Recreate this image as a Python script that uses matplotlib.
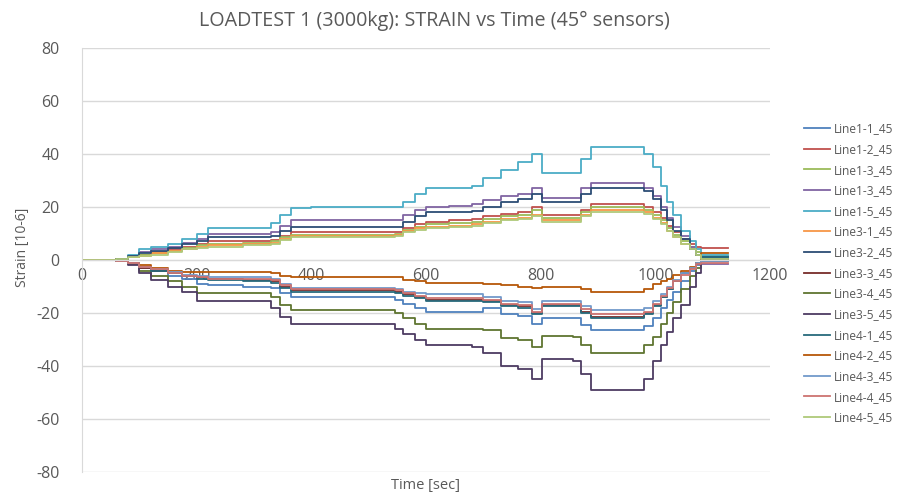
import matplotlib
matplotlib.use("Agg")
import matplotlib.pyplot as plt

plt.rcParams['font.family'] = ['Open Sans', 'DejaVu Sans']
plt.rcParams['axes.unicode_minus'] = False

# Common load-step breakpoints (seconds); each value holds until the next breakpoint
time_s = [0, 60, 80, 100, 120, 150, 175, 200, 220, 250, 280, 330, 345, 365, 400, 545,
          560, 580, 600, 640, 680, 700, 730, 760, 785, 803, 857, 870, 887, 980, 995,
          1010, 1020, 1030, 1045, 1060, 1070, 1080, 1127]

line1_1 = [0, -0.3, -1, -3, -4, -6, -7, -9, -9.5, -9.5, -10, -10.5, -12.5, -14, -14, -15,
           -16.5, -18, -19.5, -19.5, -19.5, -18, -20.5, -21, -24, -22, -22, -24.5, -26.5, -25, -22,
           -18, -15, -12, -8, -4, -2, 0.5, 0.5]
line1_2 = [0, 0.3, 1, 2, 3, 4, 5, 6, 7, 7, 7, 7.5, 9, 10.5, 10.5, 10.5,
           12, 13.5, 14.5, 15, 15.5, 16.5, 17.5, 18, 20, 17, 17, 19, 21, 20, 18,
           16, 13, 10.5, 8, 6, 5, 4.5, 4.5]
line1_3 = [0, 0.3, 1, 2, 2.5, 3.5, 4.5, 5.5, 6, 6, 6.5, 7, 8.5, 9.5, 9.5, 10,
           11.5, 12.5, 13.5, 14, 14.5, 15.5, 16.5, 17, 19, 16, 16, 18, 20, 19, 17,
           15, 12, 9.5, 7, 5, 3, 1.5, 1.5]
line1_3b = [0, 0.3, 1.5, 3, 4, 5, 6.5, 8, 10, 10, 10, 10.5, 13, 15, 15, 15,
            17, 19, 20, 20.5, 21, 22.5, 24, 25, 27, 23.5, 23.5, 27, 29, 27, 24,
            20, 16, 12.5, 9, 5, 2, -1.5, -1.5]
line1_5 = [0, 0.5, 2, 4, 5, 6, 8, 10, 12, 12, 12, 14, 17, 19.5, 20, 20,
           22, 25, 27, 27, 28, 31, 34, 37, 40, 33, 33, 38, 42.5, 40, 35,
           28, 22, 17, 11, 7, 4, 2, 2]
line3_1 = [0, 0.3, 1, 1.5, 2.5, 3.5, 4, 5, 5.5, 5.5, 6, 6.5, 8, 9, 9, 9.5,
           11, 12, 12.5, 13, 13.5, 14.5, 15.5, 16, 17, 15, 15, 17, 19, 18, 16,
           14, 11, 8.5, 6, 4, 2, 0, 0]
line3_2 = [0, 0.3, 1.5, 2.5, 3.5, 4.5, 6, 7, 8.5, 8.5, 8.5, 9, 11, 12.5, 12.5, 12.5,
           14.5, 16.5, 18, 18, 18.5, 20, 22, 23, 25, 22, 22, 25, 27, 26, 23,
           19, 15, 11, 8, 4, 2, 1, 1]
line3_3 = [0, -0.3, -1, -3, -4, -5, -6, -6.5, -7, -7, -7.5, -8, -10, -11.5, -11.5, -12,
           -13, -14, -15, -15, -15, -15.5, -17, -17.5, -20, -17, -17, -19.5, -21.5, -20, -17,
           -14, -11, -8, -5, -3, -1.5, -0.5, -0.5]
line3_4 = [0, -0.3, -1.5, -4, -6, -8, -10, -12.5, -12.5, -12.5, -12.5, -14, -17, -19, -19, -20,
           -22, -24, -26, -26, -26, -26.5, -29.5, -30, -33, -28.5, -29, -32, -35, -32, -29,
           -24, -20, -16, -11, -6, -3, 0.5, 0.5]
line3_5 = [0, -0.5, -2, -5, -7.5, -10, -12, -15.5, -15.5, -15.5, -15.5, -18, -21.5, -24, -24, -26,
           -28, -30, -32, -32, -33, -35, -40, -41, -45, -37.5, -38, -43, -49, -45, -38,
           -32, -27, -22, -17, -10, -5, 0, 0]
line4_1 = [0, -0.3, -1, -2.5, -4, -5, -6, -7, -7.5, -7.5, -8, -8.5, -10.5, -12, -12, -12.5,
           -13.5, -14.5, -15.5, -15.5, -15.5, -16, -17.5, -18, -20.5, -17.5, -17.5, -20, -22, -20.5, -17.5,
           -14, -11, -8, -5, -3, -1, 1, 1]
line4_2 = [0, -0.2, -1, -2, -3, -4, -4.5, -4.5, -4.5, -4.5, -4.5, -5, -6, -6.5, -6.5, -6.5,
           -7.5, -8, -8.5, -8.5, -8.5, -9, -9.5, -10, -10.5, -10, -10, -11, -12, -11, -9,
           -8, -7, -5.5, -4, -2.5, -1, 2.5, 2.5]
line4_3 = [0, -0.3, -1, -2.5, -3.5, -4.5, -5.5, -6, -6.5, -6.5, -6.5, -7, -9, -10.5, -10.5, -11,
           -12, -12.5, -13, -13, -13, -14, -15.5, -16, -18.5, -15.5, -15.5, -17.5, -19, -18, -15.5,
           -13, -10, -7.5, -5, -3, -1, -0.5, -0.5]
line4_4 = [0, -0.3, -1, -2.5, -3.5, -5, -6, -6.5, -7, -7, -7, -7.5, -9.5, -11, -11, -11.5,
           -12.5, -13.5, -14.5, -14.5, -14.5, -15, -16.5, -17, -19.5, -16.5, -16.5, -18.5, -20.5, -19.5, -16.5,
           -13.5, -10.5, -8, -5.5, -3.5, -1.5, -1, -1]
line4_5 = [0, 0.3, 1, 1.5, 2, 3, 4, 4.5, 5, 5, 5.5, 6, 7.5, 8.5, 8.5, 9,
           10.5, 11.5, 12, 12.5, 13, 14, 15, 15.5, 16.5, 14.5, 14.5, 16.5, 18, 17.5, 15.5,
           13.5, 11, 8.5, 6, 4, 2, 0.5, 0.5]

series_names = ["Line1-1_45", "Line1-2_45", "Line1-3_45", "Line1-3_45", "Line1-5_45",
                "Line3-1_45", "Line3-2_45", "Line3-3_45", "Line3-4_45", "Line3-5_45",
                "Line4-1_45", "Line4-2_45", "Line4-3_45", "Line4-4_45", "Line4-5_45"]
series_values = [line1_1, line1_2, line1_3, line1_3b, line1_5,
                 line3_1, line3_2, line3_3, line3_4, line3_5,
                 line4_1, line4_2, line4_3, line4_4, line4_5]
colors = ["#4F81BD", "#C0504D", "#9BBB59", "#8064A2", "#4BACC6",
          "#F79646", "#2C4D75", "#772C2A", "#5F7530", "#4D3B62",
          "#276A7C", "#B65708", "#729ACA", "#CD7371", "#AFC97A"]

x_ticks = [0, 200, 400, 600, 800, 1000, 1200]
y_ticks = [-80, -60, -40, -20, 0, 20, 40, 60, 80]

fig = plt.figure(figsize=(9.06, 5.0), dpi=100)
ax = fig.add_axes([0.0905, 0.056, 0.7595, 0.848])

for name, vals, c in zip(series_names, series_values, colors):
    ax.step(time_s, vals, where="post", color=c, lw=1.3, label=name)

ax.set_xlim(0, 1200)
ax.set_ylim(-80, 80)
ax.set_xticks(x_ticks)
ax.set_yticks(y_ticks)
ax.set_axisbelow(True)
ax.grid(axis="y", color="#D9D9D9", lw=1)
ax.grid(axis="x", visible=False)
for s in ["top", "right"]:
    ax.spines[s].set_visible(False)
ax.spines["left"].set_color("#D9D9D9")
ax.spines["bottom"].set_color("#D9D9D9")
ax.spines["bottom"].set_position(("data", 0))
ax.tick_params(axis="both", length=0, labelsize=11.5, labelcolor="#595959")
ax.tick_params(axis="x", pad=6)
ax.tick_params(axis="y", pad=16)

fig.text(0.48, 0.958, "LOADTEST 1 (3000kg): STRAIN vs Time (45° sensors)",
         ha="center", va="center", fontsize=14.2, color="#595959")
fig.text(0.47, 0.028, "Time [sec]", ha="center", va="center", fontsize=10.5, color="#595959")
fig.text(0.025, 0.506, "Strain [10-6]", ha="center", va="center", rotation=90,
         fontsize=10, color="#595959")

leg = fig.legend(loc="upper left", bbox_to_anchor=(0.882, 0.765), frameon=False,
                 fontsize=8.6, handlelength=2.2, handletextpad=0.3, labelspacing=0.64,
                 borderaxespad=0)
for t in leg.get_texts():
    t.set_color("#595959")

fig.savefig("out.png", dpi=100)
